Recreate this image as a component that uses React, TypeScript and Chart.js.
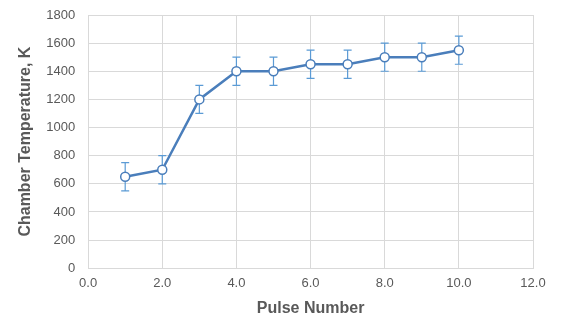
import React, { useEffect, useRef } from "react";
import { Chart, registerables } from "chart.js";

Chart.register(...registerables);

const pulseNumbers = [1, 2, 3, 4, 5, 6, 7, 8, 9, 10];
const temperatures = [650, 700, 1200, 1400, 1400, 1450, 1450, 1500, 1500, 1550];
const tempErrors = [100, 100, 100, 100, 100, 100, 100, 100, 100, 100];

const LINE_COLOR = "#4a7ebb";
const ERR_COLOR = "#5b9bd5";
const TEXT_COLOR = "#595959";
const GRID_COLOR = "#d9d9d9";
const FONT = "'Liberation Sans', Arial, sans-serif";

// Draws vertical error bars with caps beneath the points
const errorBarPlugin = {
  id: "errorBars",
  beforeDatasetsDraw(chart: any) {
    const { ctx, scales } = chart;
    const xs = scales.x;
    const ys = scales.y;
    ctx.save();
    ctx.strokeStyle = ERR_COLOR;
    ctx.lineWidth = 1.2;
    pulseNumbers.forEach((p, i) => {
      const x = xs.getPixelForValue(p);
      const yTop = ys.getPixelForValue(temperatures[i] + tempErrors[i]);
      const yBot = ys.getPixelForValue(temperatures[i] - tempErrors[i]);
      const cap = 4;
      ctx.beginPath();
      ctx.moveTo(x, yTop);
      ctx.lineTo(x, yBot);
      ctx.moveTo(x - cap, yTop);
      ctx.lineTo(x + cap, yTop);
      ctx.moveTo(x - cap, yBot);
      ctx.lineTo(x + cap, yBot);
      ctx.stroke();
    });
    ctx.restore();
  },
};

export default function App() {
  const canvasRef = useRef<HTMLCanvasElement>(null);

  useEffect(() => {
    if (!canvasRef.current) return;
    const chart = new Chart(canvasRef.current, {
      type: "line",
      data: {
        datasets: [
          {
            data: pulseNumbers.map((p, i) => ({ x: p, y: temperatures[i] })),
            borderColor: LINE_COLOR,
            borderWidth: 2.5,
            pointRadius: 4.5,
            pointBorderWidth: 1.5,
            pointBackgroundColor: "#ffffff",
            pointBorderColor: LINE_COLOR,
            tension: 0,
          },
        ],
      },
      options: {
        animation: false,
        responsive: false,
        layout: { padding: { left: 16, right: 28, top: 15, bottom: 4 } },
        plugins: {
          legend: { display: false },
          tooltip: { enabled: false },
        },
        scales: {
          x: {
            type: "linear",
            min: 0,
            max: 12,
            ticks: {
              stepSize: 2,
              color: TEXT_COLOR,
              font: { family: FONT, size: 13 },
              padding: 7,
              callback: (v: any) => Number(v).toFixed(1),
            },
            grid: { color: GRID_COLOR, drawTicks: false },
            border: { color: GRID_COLOR },
            title: {
              display: true,
              text: "Pulse Number",
              color: TEXT_COLOR,
              font: { family: FONT, size: 16, weight: "bold" },
              padding: { top: 1, bottom: 0 },
            },
          },
          y: {
            min: 0,
            max: 1800,
            // let the layout padding alone decide the top of the plot area
            afterFit: (scale: any) => {
              scale.paddingTop = 0;
            },
            ticks: {
              stepSize: 200,
              color: TEXT_COLOR,
              font: { family: FONT, size: 13 },
              padding: 13,
              callback: (v: any) => String(v),
            },
            grid: { color: GRID_COLOR, drawTicks: false },
            border: { color: GRID_COLOR },
            title: {
              display: true,
              text: "Chamber Temperature, K",
              color: TEXT_COLOR,
              font: { family: FONT, size: 16, weight: "bold" },
              padding: { top: 0, bottom: -2 },
            },
          },
        },
      },
      plugins: [errorBarPlugin],
    });
    return () => chart.destroy();
  }, []);

  return (
    <div style={{ position: "absolute", left: 0, top: 0, width: 561, height: 322, background: "#fff" }}>
      <canvas ref={canvasRef} width={561} height={322} />
    </div>
  );
}
